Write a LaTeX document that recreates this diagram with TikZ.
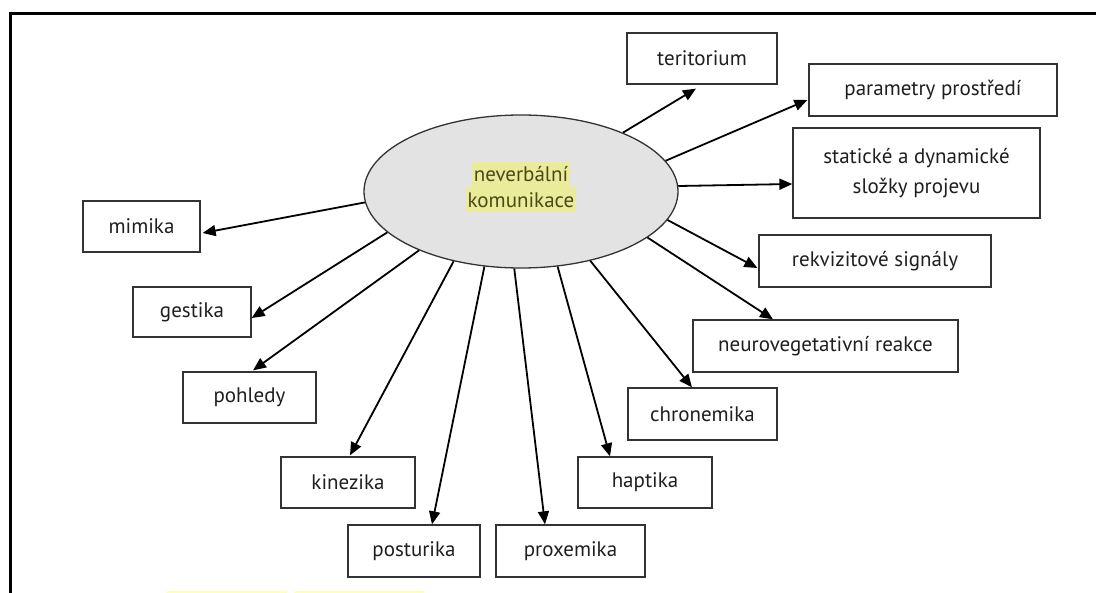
\documentclass[tikz,border=0pt]{standalone}
\usepackage{fontspec}
\setmainfont{PT Sans}
\usetikzlibrary{shapes.geometric,arrows.meta,calc}
\definecolor{boxline}{HTML}{333333}
\definecolor{ellfill}{HTML}{E3E3E3}
\definecolor{hl}{HTML}{EBEB9C}
\definecolor{hltext}{HTML}{4A4A18}
\definecolor{hlbottom}{HTML}{FFFFB8}
\tikzset{
  stepbox/.style={draw=boxline, line width=1.3pt, fill=white, inner sep=0pt,
    font=\fontsize{21}{30}\selectfont, text=black!88, align=center},
  arr/.style={line width=1.8pt, -{Triangle[length=13pt,width=11pt]}},
  hlline/.style={fill=hl, inner xsep=1.5pt, inner ysep=0pt, minimum height=25pt,
    font=\fontsize{21}{25}\selectfont, text=hltext}
}
\begin{document}
\begin{tikzpicture}[x=1pt,y=1pt]
\useasboundingbox (0,0) rectangle (1096,-593);
\fill[white] (0,0) rectangle (1096,-593);
% frame
\draw[line width=3pt] (10.5,-594) -- (10.5,-14) -- (1097,-14);
% bottom highlight fragments
\fill[hlbottom] (166,-591) rectangle (287,-594);
\fill[hlbottom] (294,-591) rectangle (424,-594);
% centre
\node[ellipse, draw=boxline, line width=1.3pt, fill=ellfill, inner sep=0pt,
  minimum width=314pt, minimum height=153pt] (ell) at (521,-191.5) {};
\node[hlline] (t1) at (521,-174.5) {neverbální};
\node[hlline] (t2) at (521,-200) {komunikace};
% boxes
\node[stepbox, minimum width=150pt, minimum height=51pt] (ter) at (702,-58.5) {teritorium};
\node[stepbox, minimum width=248pt, minimum height=52pt] (par) at (933,-90) {parametry prostředí};
\node[stepbox, minimum width=247pt, minimum height=90pt] (sta) at (916.5,-173) {statické a dynamické\\složky projevu};
\node[stepbox, minimum width=232pt, minimum height=52pt] (rek) at (875,-261) {rekvizitové signály};
\node[stepbox, minimum width=265pt, minimum height=52pt] (neu) at (825.5,-346) {neurovegetativní reakce};
\node[stepbox, minimum width=149pt, minimum height=52pt] (chr) at (702.5,-414) {chronemika};
\node[stepbox, minimum width=134pt, minimum height=51pt] (hap) at (645,-482.5) {haptika};
\node[stepbox, minimum width=149pt, minimum height=52pt] (prx) at (570.5,-551) {proxemika};
\node[stepbox, minimum width=132pt, minimum height=52pt] (pos) at (414,-551) {posturika};
\node[stepbox, minimum width=134pt, minimum height=51pt] (kin) at (348,-482.5) {kinezika};
\node[stepbox, minimum width=133pt, minimum height=51pt] (poh) at (249.5,-397.5) {pohledy};
\node[stepbox, minimum width=118pt, minimum height=50pt] (ges) at (192,-312) {gestika};
\node[stepbox, minimum width=117pt, minimum height=51pt] (mim) at (141.5,-226.5) {mimika};
% arrows
\draw[arr] (ell.30.2) -- ([xshift=-6pt,yshift=-4pt]ter.south);
\draw[arr] (ell.12.7) -- ([xshift=-1pt,yshift=-10pt]par.west);
\draw[arr] (ell.2.75) -- ([yshift=-11pt]sta.west);
\draw[arr] (ell.-11.7) -- ([xshift=-1pt,yshift=-7pt]rek.west);
\draw[arr] (ell.-20.1) -- ([xshift=-52.5pt]neu.north);
\draw[arr] (ell.-45.6) -- ([xshift=-10.5pt]chr.north);
\draw[arr] (ell.-64.2) -- ([xshift=-35pt]hap.north);
\draw[arr] (ell.-95.8) -- ([xshift=-25.5pt]prx.north);
\draw[arr] (ell.-116.4) -- ([xshift=18pt]pos.north);
\draw[arr] (ell.-134.4) -- ([xshift=2pt,yshift=1pt]kin.north);
\draw[arr] (ell.-150.6) -- ([xshift=3.5pt,yshift=1pt]poh.north);
\draw[arr] (ell.-163.6) -- ([yshift=-6pt]ges.east);
\draw[arr] (ell.-176.2) -- ([xshift=2pt,yshift=-6.5pt]mim.east);
\end{tikzpicture}
\end{document}
